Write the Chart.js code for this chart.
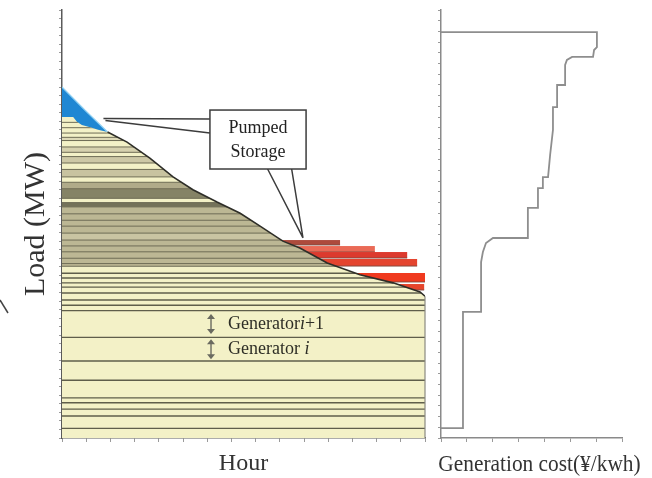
<!DOCTYPE html>
<html><head><meta charset="utf-8">
<script src="https://cdn.jsdelivr.net/npm/chart.js@4.4.0/dist/chart.umd.min.js"></script>
<style>
html,body{margin:0;padding:0;background:#fff;width:652px;height:478px;overflow:hidden}
#w1{position:absolute;left:0;top:0;width:432px;height:478px}
#w2{position:absolute;left:432px;top:0;width:220px;height:478px}
canvas{display:block}
</style></head><body>
<div id="w1"><canvas id="c1" width="432" height="478"></canvas></div>
<div id="w2"><canvas id="c2" width="220" height="478"></canvas></div>
<script>
// ---------- data ----------
// load duration curve (hours of year, MW)
const loadHours = [0, 550, 1100, 1570, 2120, 2680, 3160, 3740, 4300, 4780, 5330, 5740, 6400, 7190, 7990, 8640, 8760];
const loadMW    = [328, 306.5, 286, 276.5, 261.5, 244, 232, 220.5, 210, 198, 184, 177.5, 163.5, 152.5, 145, 136.5, 132.5];
// load after pumped-storage generation shaves the peak
const shaveHours = [0, 270, 360, 480, 680, 870, 1100];
const shaveMW    = [300, 300, 295.5, 292.5, 290.5, 288, 286];
// generator block boundaries (MW)
const genLines = [9, 20.5, 27, 33, 37.5, 54, 72, 94, 119, 124, 129, 135.5, 141, 145, 149.5, 154, 160.5,
                  163, 168, 174, 179.5, 185, 191.5, 198, 203.5, 209.5, 216, 220, 224, 233, 239, 244,
                  251, 257, 263, 267, 272, 278, 281, 285, 290, 295];
// shaded generator blocks (MW)
const bandLo = [160.5, 185, 216, 224, 233, 244, 257, 267, 278];
const bandHi = [216, 191.5, 220, 233, 239, 251, 263, 272, 281];
const bandColors = ['#bcb794', '#c9c4a2', '#74725a', '#858366', '#b0ab8a', '#c8c3a0', '#cdc8a6', '#d6d1ae', '#ddd9b7'];
// pumped-storage pumping blocks (MW range, last hour)
const pumpLo  = [180.4, 173.8, 168.2, 160.7, 145.8, 138.3];
const pumpHi  = [185.0, 179.4, 173.8, 167.3, 154.2, 143.9];
const pumpEnd = [6710, 7550, 8330, 8570, 8760, 8740];
const pumpColors = ['#ad4a3c', '#ea6a56', '#dc3a2e', '#e4442f', '#f03a1f', '#e6452c'];
// merit-order generation cost curve (¥/kWh vs cumulative MW)
const costX = [0, 0.85, 0.85, 1.55, 1.55, 1.62, 1.74, 2.01, 3.36, 3.36, 3.75, 3.75, 3.94, 3.94, 4.14, 4.22, 4.33, 4.33, 4.49, 4.49, 4.80, 4.80, 4.87, 5.07, 5.88, 5.92, 6.03, 6.03, 0];
const costMW = [9.3, 9.3, 117.8, 117.8, 164.5, 173.8, 182.2, 186.9, 186.9, 215, 215, 233.6, 233.6, 243.9, 243.9, 264.5, 287.9, 309.3, 309.3, 329.9, 329.9, 348.6, 353.3, 356.1, 356.1, 362.6, 365.4, 379.4, 379.4];
// labels
const yTitle = 'Load (MW)';
const xTitle1 = 'Hour';
const xTitle2 = 'Generation cost(¥/kwh)';
const calloutText = ['Pumped', 'Storage'];
const genLabelLo = [94, 72];
const genLabelHi = [119, 94];
const genLabelSuffix = ['+1', ''];

// ---------- derived point lists ----------
const shaveEnd = shaveHours[shaveHours.length - 1];
const toPts = (xs, ys) => xs.map((v, i) => ({x: v, y: ys[i]}));
const loadPts = toPts(loadHours, loadMW);
const netPts = toPts(shaveHours, shaveMW).concat(loadPts.filter(p => p.x > shaveEnd));
const peakPts = loadPts.filter(p => p.x <= shaveEnd);
const linePts = loadPts.filter(p => p.x >= shaveEnd);

const SERIF = "'Liberation Serif', 'DejaVu Serif', serif";

// annotation anchors in data units
const callout = {h0: 3570, h1: 5890, top: 306.5, bot: 251.4,
  ptrTop: {x: 1000, y: 298.5}, ptrBot: {x: 5815, y: 187}, arrowHour: 3596};

const stripes = {
  id: 'stripes',
  beforeDatasetsDraw(chart) {
    const {ctx, scales: {x, y}, chartArea: a} = chart;
    ctx.save();
    ctx.beginPath(); ctx.rect(a.left, a.top, a.right - a.left, a.bottom - a.top); ctx.clip();
    for (let i = 0; i < pumpLo.length; i++) {
      const x0 = x.getPixelForValue(0), x1 = x.getPixelForValue(pumpEnd[i]);
      const yt = y.getPixelForValue(pumpHi[i]), yb = y.getPixelForValue(pumpLo[i]);
      ctx.fillStyle = pumpColors[i];
      ctx.fillRect(x0, yt, x1 - x0, yb - yt);
      ctx.strokeStyle = '#7d4a3e'; ctx.lineWidth = 0.9;
      ctx.beginPath(); ctx.moveTo(x0, yb); ctx.lineTo(x1, yb); ctx.stroke();
    }
    ctx.restore();
  },
  afterDatasetDraw(chart, args) {
    if (chart.data.datasets[args.index].label !== 'net') return;
    const {ctx, scales: {x, y}} = chart;
    const pts = args.meta.data;
    const base = y.getPixelForValue(0);
    const xl = pts[0].x, xr = pts[pts.length - 1].x;
    ctx.save();
    ctx.beginPath();
    ctx.moveTo(xl, base);
    pts.forEach(p => ctx.lineTo(p.x, p.y));
    ctx.lineTo(xr, base);
    ctx.closePath();
    ctx.clip();
    for (let i = 0; i < bandLo.length; i++) {
      const yt = y.getPixelForValue(bandHi[i]), yb = y.getPixelForValue(bandLo[i]);
      ctx.fillStyle = bandColors[i];
      ctx.fillRect(xl, yt, xr - xl, yb - yt);
    }
    genLines.forEach(v => {
      const yy = y.getPixelForValue(v);
      ctx.strokeStyle = v > 160 ? '#6e6c55' : '#5f5e4b';
      ctx.lineWidth = v > 160 ? 1 : 1.4;
      ctx.beginPath(); ctx.moveTo(xl, yy); ctx.lineTo(xr, yy); ctx.stroke();
    });
    ctx.restore();
    ctx.save();
    ctx.strokeStyle = '#8a8a80'; ctx.lineWidth = 1.2;
    ctx.beginPath(); ctx.moveTo(xr, pts[pts.length - 1].y); ctx.lineTo(xr, base); ctx.stroke();
    ctx.restore();
  },
  afterDraw(chart) {
    const {ctx, scales: {x, y}} = chart;
    ctx.save();
    // callout box
    const bx0 = x.getPixelForValue(callout.h0), bx1 = x.getPixelForValue(callout.h1);
    const by0 = y.getPixelForValue(callout.top), by1 = y.getPixelForValue(callout.bot);
    ctx.strokeStyle = '#3c3c3c'; ctx.lineWidth = 1.5;
    const pT = {x: x.getPixelForValue(callout.ptrTop.x), y: y.getPixelForValue(callout.ptrTop.y)};
    const pB = {x: x.getPixelForValue(callout.ptrBot.x), y: y.getPixelForValue(callout.ptrBot.y)};
    const bh = by1 - by0, bw = bx1 - bx0;
    ctx.beginPath();
    ctx.moveTo(bx0, by0 + bh * 0.15); ctx.lineTo(pT.x, pT.y);
    ctx.moveTo(bx0, by0 + bh * 0.39); ctx.lineTo(pT.x + 2, pT.y + 2);
    ctx.moveTo(bx0 + bw * 0.6, by1); ctx.lineTo(pB.x, pB.y);
    ctx.moveTo(bx0 + bw * 0.85, by1); ctx.lineTo(pB.x, pB.y);
    ctx.stroke();
    ctx.fillStyle = '#fff';
    ctx.fillRect(bx0, by0, bw, bh);
    ctx.strokeRect(bx0, by0, bw, bh);
    ctx.fillStyle = '#222';
    ctx.font = '18px ' + SERIF;
    ctx.textAlign = 'center'; ctx.textBaseline = 'middle';
    const cx = (bx0 + bx1) / 2, cy = (by0 + by1) / 2;
    ctx.fillText(calloutText[0], cx, cy - 11);
    ctx.fillText(calloutText[1], cx, cy + 13);
    // generator labels with double arrows
    const ax = x.getPixelForValue(callout.arrowHour);
    for (let i = 0; i < genLabelLo.length; i++) {
      const cyv = y.getPixelForValue((genLabelLo[i] + genLabelHi[i]) / 2);
      ctx.strokeStyle = '#6a6a60'; ctx.fillStyle = '#6a6a60'; ctx.lineWidth = 1.4;
      ctx.beginPath(); ctx.moveTo(ax, cyv - 6); ctx.lineTo(ax, cyv + 6); ctx.stroke();
      ctx.beginPath(); ctx.moveTo(ax - 4, cyv - 5); ctx.lineTo(ax, cyv - 10); ctx.lineTo(ax + 4, cyv - 5); ctx.closePath(); ctx.fill();
      ctx.beginPath(); ctx.moveTo(ax - 4, cyv + 5); ctx.lineTo(ax, cyv + 10); ctx.lineTo(ax + 4, cyv + 5); ctx.closePath(); ctx.fill();
      ctx.fillStyle = '#2e2e26';
      ctx.textAlign = 'left'; ctx.textBaseline = 'middle';
      ctx.font = '18px ' + SERIF;
      let tx = ax + 17;
      const word = i === 0 ? 'Generator' : 'Generator ';
      ctx.fillText(word, tx, cyv); tx += ctx.measureText(word).width;
      ctx.font = 'italic 18px ' + SERIF;
      ctx.fillText('i', tx, cyv); tx += ctx.measureText('i').width;
      ctx.font = '18px ' + SERIF;
      if (genLabelSuffix[i]) ctx.fillText(genLabelSuffix[i], tx, cyv);
    }
    // crop artefact at the left edge
    ctx.strokeStyle = '#444'; ctx.lineWidth = 1.5;
    ctx.beginPath(); ctx.moveTo(0, 300); ctx.lineTo(8, 313); ctx.stroke();
    ctx.restore();
  }
};

// right-panel axis title, drawn at full width (Chart.js would squeeze it to the axis length)
const costTitle = {
  id: 'costTitle',
  afterDraw(chart) {
    const {ctx, chartArea: a} = chart;
    ctx.save();
    ctx.fillStyle = '#333';
    ctx.font = '24px ' + SERIF;
    ctx.textAlign = 'center'; ctx.textBaseline = 'middle';
    ctx.translate((a.left + a.right) / 2 + 8, 465);
    ctx.scale(0.89, 1);
    ctx.fillText(xTitle2, 0, 0);
    ctx.restore();
  }
};

const axisGrid = {drawOnChartArea: false, drawTicks: true, tickLength: 3, color: '#9a9a9a', lineWidth: 1};

new Chart(document.getElementById('c1'), {
  type: 'line',
  data: {datasets: [
    {label: 'load', data: linePts, borderColor: '#2e2e28', borderWidth: 1.6, pointRadius: 0, fill: false, tension: 0, order: 1},
    {label: 'net', data: netPts, borderColor: 'rgba(0,0,0,0)', borderWidth: 0, backgroundColor: '#f3f1c7', fill: 'origin', pointRadius: 0, tension: 0, order: 4},
    {label: 'peak', data: peakPts, borderColor: '#8fd0f2', borderWidth: 1.2, backgroundColor: '#1f87d3', fill: 'origin', pointRadius: 0, tension: 0, order: 5}
  ]},
  options: {
    responsive: false, animation: false, devicePixelRatio: 1,
    layout: {padding: {top: 10, right: 7, left: 0, bottom: 0}},
    plugins: {legend: {display: false}, tooltip: {enabled: false}},
    scales: {
      x: {type: 'linear', min: 0, max: 8760,
        ticks: {stepSize: 600, display: false},
        grid: {...axisGrid, tickLength: 4},
        border: {display: true, color: '#5a5a5a', width: 1.5},
        title: {display: true, text: xTitle1, color: '#333', font: {family: SERIF, size: 24}, padding: {top: 0, bottom: 0}},
        afterFit: s => { s.height = 40; }},
      y: {type: 'linear', min: 0, max: 400,
        ticks: {stepSize: 8, display: false},
        grid: axisGrid,
        border: {display: true, color: '#5a5a5a', width: 1.5},
        title: {display: true, text: yTitle, color: '#333', font: {family: SERIF, size: 30}, padding: {top: 18, bottom: 0}},
        afterFit: s => { s.width = 62; }}
    }
  },
  plugins: [stripes]
});

new Chart(document.getElementById('c2'), {
  type: 'line',
  data: {datasets: [
    {label: 'cost', data: toPts(costX, costMW), borderColor: '#8e8e8e', borderWidth: 1.8, pointRadius: 0, fill: false, tension: 0}
  ]},
  options: {
    responsive: false, animation: false, devicePixelRatio: 1,
    layout: {padding: {top: 10, right: 30, left: 0, bottom: 0}},
    plugins: {legend: {display: false}, tooltip: {enabled: false}},
    scales: {
      x: {type: 'linear', min: 0, max: 7,
        ticks: {stepSize: 1, display: false},
        grid: {...axisGrid, tickLength: 4},
        border: {display: true, color: '#8a8a8a', width: 1.5},
        title: {display: false, text: xTitle2},
        afterFit: s => { s.height = 40; }},
      y: {type: 'linear', min: 0, max: 400,
        ticks: {stepSize: 10, display: false},
        grid: axisGrid,
        border: {display: true, color: '#8a8a8a', width: 1.5},
        afterFit: s => { s.width = 9; }}
    }
  },
  plugins: [costTitle]
});
</script>
</body></html>
